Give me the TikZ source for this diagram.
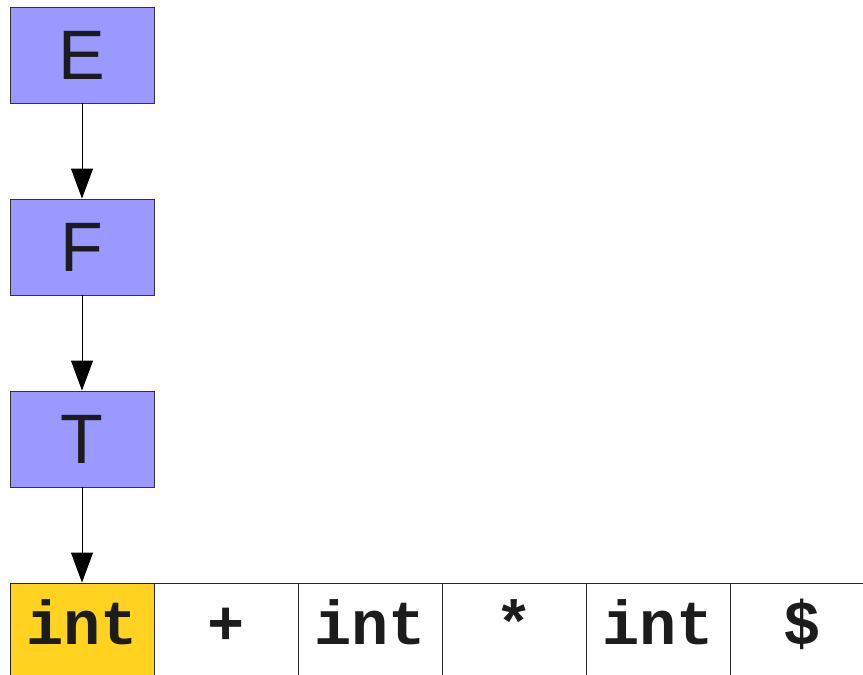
\documentclass[tikz,border=0pt]{standalone}
\usepackage{fontspec}
\setmainfont{Liberation Sans}
\setmonofont{Liberation Mono}
\usetikzlibrary{arrows.meta}
\definecolor{ntblue}{RGB}{153,153,255}
\definecolor{tokyellow}{RGB}{255,211,32}
\definecolor{inkgray}{RGB}{28,28,28}
\tikzset{
  nonterm/.style={draw=black!80, fill=ntblue, text=inkgray, line width=0.9pt, minimum width=144pt, minimum height=96pt, inner sep=0pt, font=\fontsize{70}{70}\selectfont},
  token/.style={draw=black!85, fill=white, text=inkgray, line width=0.9pt, minimum width=144pt, minimum height=96pt, inner sep=0pt, text height=38pt, text depth=12pt, font=\fontsize{62}{62}\selectfont\ttfamily\bfseries},
  derive/.style={-{Triangle[length=30pt,width=22pt]}, line width=0.9pt}
}
\begin{document}
\begin{tikzpicture}[x=1pt,y=-1pt]
\useasboundingbox (0,0) rectangle (863,675);
\clip (0,0) rectangle (863,675);
\node[nonterm] (E) at (82,55) {E};
\node[nonterm] (F) at (82,247) {F};
\node[nonterm] (T) at (82,439) {T};
% input tokens
\foreach \tok [count=\i from 0] in {int,+,int,*,int,\$}
{
\node[token] (tok\i) at (82+144*\i,631) {\tok};
}
\node[token, fill=tokyellow] (tok0) at (82,631) {int};
\draw[derive] (E) -- (F);
\draw[derive] (F) -- (T);
\draw[derive] (T) -- (tok0);
\end{tikzpicture}
\end{document}
